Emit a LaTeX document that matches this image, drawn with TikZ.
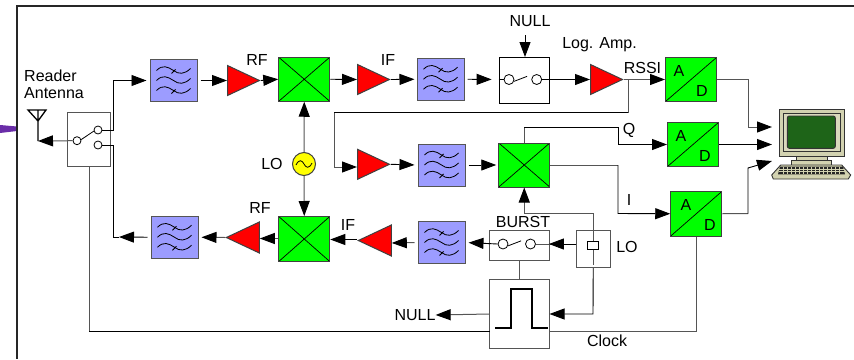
\documentclass[tikz,border=0pt]{standalone}
\usepackage{fontspec}
\setmainfont{Liberation Sans}
\usetikzlibrary{arrows.meta,shapes.geometric,calc}
\definecolor{filt}{HTML}{9C9CFF}
\definecolor{amp}{HTML}{FF0000}
\definecolor{mix}{HTML}{00FF00}
\definecolor{osc}{HTML}{FFFF00}
\definecolor{tan}{HTML}{D2D2B0}
\definecolor{scr}{HTML}{1E6418}
\definecolor{purp}{HTML}{6A2DA8}
\definecolor{gw}{HTML}{555555}
\tikzset{
  x=1pt,y=-1pt,
  wire/.style={line width=0.9pt,draw=black,line join=miter},
  gwire/.style={line width=1pt,draw=gw},
  conn/.style={wire,-{Triangle[length=15pt,width=11pt,color=black]}},
  gconn/.style={gwire,-{Triangle[length=15pt,width=11pt,color=black]}},
  filterbox/.style={draw=gw,fill=filt,line width=1pt,minimum width=47pt,minimum height=42pt,inner sep=0pt},
  mixer/.style={draw=black!75,fill=mix,line width=1pt,inner sep=0pt,minimum width=51pt,minimum height=44pt,
    path picture={\draw[line width=0.7pt,black]
      (path picture bounding box.north west)--(path picture bounding box.south east)
      (path picture bounding box.north east)--(path picture bounding box.south west);}},
  adc/.style={draw=black!75,fill=mix,line width=1pt,inner sep=0pt,minimum width=51pt,minimum height=44pt,
    path picture={\draw[line width=0.7pt,black]
      (path picture bounding box.north east)--(path picture bounding box.south west);}},
  ampR/.style={draw=black!75,fill=amp,line width=1pt,isosceles triangle,isosceles triangle stretches,
    shape border rotate=0,minimum width=30pt,minimum height=32pt,inner sep=0pt,anchor=west},
  ampL/.style={draw=black!75,fill=amp,line width=1pt,isosceles triangle,isosceles triangle stretches,
    shape border rotate=180,minimum width=31pt,minimum height=33pt,inner sep=0pt,anchor=west},
  swbox/.style={draw=#1,line width=1pt,fill=white,inner sep=0pt},
  swbox/.default=gw,
  contact/.style={circle,draw=black,line width=0.8pt,fill=white,minimum size=#1,inner sep=0pt},
  contact/.default=10pt,
  lbl/.style={inner sep=0pt,font=\fontsize{16}{17}\selectfont,align=left},
  waves/.pic={
    \foreach \dy in {-10,0,10}{
      \draw[line width=0.8pt,black] (-17,\dy) .. controls (-11,\dy-6) and (-6,\dy-4) .. (0,\dy)
        .. controls (5,\dy+4) and (11,\dy+4) .. (17,\dy-2);
    }
    \draw[line width=0.8pt,black] (-2,-7) -- (2,-11) (-2,13) -- (2,9);
  },
}
\begin{document}
\begin{tikzpicture}
\useasboundingbox (0,0) rectangle (854,359);
% frame
\path[fill=purp] (0,125) -- (17,126.5) -- (17,131) -- (0,133) -- cycle;
\draw[line width=1.5pt,black!85] (854,6) -- (17,6) -- (17,359);

% blocks
\node[swbox,minimum width=42.5pt,minimum height=53.5pt,at={(88.75,139.25)}] (sw) {};
\node[contact=8pt,at={(77,140.7)}] (swc) {};
\node[contact=8pt,at={(98,130)}] (swa) {};
\node[contact=8pt,at={(98,145)}] (swb) {};

\node[filterbox,at={(173.5,80.5)}] (f1) {};
\node[ampR,at={(227,80.5)}] (a1) {};
\node[mixer,at={(304.25,79.25)}] (m1) {};
\node[ampR,at={(357,79.5)}] (a2) {};
\node[filterbox,at={(440.5,79.25)}] (f2) {};
\node[swbox=black,minimum width=50.5pt,minimum height=45.5pt,at={(524.25,80.25)}] (ns) {};
\node[contact,at={(509,79.5)}] (n1) {};
\node[contact,at={(536.7,79.5)}] (n2) {};
\node[ampR,at={(590,79.5)}] (a3) {};
\node[adc,at={(691,79.5)}] (ad1) {};

\node[ampR,at={(357,164.3)}] (a4) {};
\node[filterbox,at={(441.5,165)}] (f3) {};
\node[mixer,at={(524.25,165)}] (m3) {};
\node[adc,at={(693,144.5)}] (ad2) {};
\node[adc,minimum height=44.5pt,at={(696.25,213.75)}] (ad3) {};

\node[circle,draw=black!75,fill=osc,line width=1pt,minimum size=23pt,inner sep=0pt,at={(304,164)}] (lo) {};
\draw[line width=0.8pt,black] (296,165) .. controls (299,159) and (302,160) .. (304,164) .. controls (306,168) and (309,169) .. (312,163);

\node[filterbox,at={(174.5,237.25)}] (f4) {};
\node[ampL,at={(225,237.5)}] (a5) {};
\node[mixer,minimum height=45pt,at={(304.25,239)}] (m2) {};
\node[ampL,at={(357,240.5)}] (a6) {};
\node[filterbox,at={(441.5,242.5)}] (f5) {};
\node[swbox,minimum width=60pt,minimum height=30pt,at={(519.5,245)}] (bs) {};
\node[contact,at={(503,244)}] (b1) {};
\node[contact,at={(530.5,244)}] (b2) {};
\node[swbox,minimum width=33.5pt,minimum height=37.5pt,at={(593.25,248.75)}] (lob) {};
\node[draw=black,line width=1pt,fill=white,minimum width=11pt,minimum height=8pt,inner sep=0pt,at={(593,245)}] (xt) {};
\node[swbox,minimum width=60pt,minimum height=69.5pt,at={(519.5,313.75)}] (pu) {};
\draw[line width=1.6pt,black] (495,328) -- (511,328) -- (511,289) -- (532,289) -- (532,328) -- (548,328);

% switch blades
\draw[line width=0.8pt,black] (swc.15) -- (swa.195);
\draw[line width=0.8pt,black] (n1.-20) -- ++(13,-5);
\draw[line width=0.8pt,black] (b1.-20) -- ++(13,-5);

% pictures of filters
\pic at (f1) {waves};
\pic at (f2) {waves};
\pic at (f3) {waves};
\pic at (f4) {waves};
\pic at (f5) {waves};

% antenna
\coordinate (ant) at (38,141);
\draw[line width=1.3pt,black] (28,110) -- (46,110) -- (38,121) -- cycle (38,110) -- (ant);

% computer
\coordinate (pc1) at (772,127);
\coordinate (pc2) at (772,144.5);
\coordinate (pc3) at (772,161);
\begin{scope}[line width=0.9pt,draw=black!80]
\draw[fill=tan] (796,156.7) rectangle (827.7,160);
\draw[fill=tan] (791.7,160) rectangle (831.7,165);
\draw[fill=tan] (780.7,165) -- (841.7,165) -- (850.7,175) -- (848.3,179) -- (773.3,179) -- (771.7,175) -- cycle;
\fill[black!85] (780,166.7) -- (843,166.7) -- (845,174.3) -- (778,174.3) -- cycle;
\draw[tan,line width=0.4pt] (779,169) -- (844,169) (778.5,171.5) -- (844.5,171.5);
\foreach \kx in {783,787,...,841}{\draw[tan,line width=0.3pt] (\kx,166.7) -- (\kx,174.3);}
\draw[fill=tan] (779,109) rectangle (844.7,156.7);
\draw[fill=tan!85!white,line width=0.7pt] (783.3,113.3) rectangle (840.7,151);
\draw[fill=scr,rounded corners=2pt] (787.3,116) rectangle (835.3,148.3);
\end{scope}

% forward path
\coordinate (sj) at (113,130);
\draw[conn,shorten >=3pt] (swa.east) -- (sj) |- (f1.west);
\draw[conn,shorten <=3pt] (f1.east) -- (a1.west);
\draw[conn] (a1.east) -- (m1.west);
\draw[conn] (m1.east) -- (a2.west);
\draw[conn,shorten >=2pt] (a2.east) -- (f2.west);
\draw[conn,shorten <=3pt,shorten >=12pt] (f2.east) -- (n1.west);
\draw[wire] (ns.west|-n1) -- (n1.west);
\draw[conn] (n2.east) -- (a3.west);
\draw[gconn] (a3.east) -- (ad1.west);
\coordinate (rj) at (628,79.5);
\coordinate (rk) at (334,112.5);
\draw[gwire] (rj) -- (628,112.5);
\draw[wire] (628,112.5) -- (rk);
\draw[gconn] (rk) -- (334,167) -- (a4.west|-0,167);
\draw[conn,shorten >=3pt] (a4.east) -- (f3.west);
\draw[conn,shorten <=3pt,shorten >=2pt] (f3.east) -- (m3.west);
\coordinate (q1) at (618,127);
\coordinate (q2) at (618,144.5);
\draw[gwire] (m3.north) -- (524.25,127);
\draw[conn] (524.25,127) -- (q1) -- (q2) -- (ad2.west);
\coordinate (i1) at (618,165);
\coordinate (i2) at (618,213.5);
\draw[gwire] (m3.east) -- (i1);
\draw[conn] (i1) -- (i2) -- (ad3.west);
\coordinate (o1) at (748,79.5);
\draw[gconn] (ad1.east) -- (o1) |- (pc1);
\draw[conn] (ad2.east) -- (pc2);
\coordinate (o3) at (748,213.5);
\coordinate (o4) at (748,168);
\draw[gwire] (ad3.east) -- (o3);
\draw[conn] (o3) -- (o4) -- (pc3);
% LO
\draw[gconn] (lo.north) -- (m1.south);
\draw[gconn] (lo.south) -- (m2.north);
% return path
\coordinate (sk) at (113,145);
\coordinate (t4) at (119,237);
\draw[wire] (swb.east) -- (sk) |- (t4);
\draw[conn,shorten <=3pt] (f4.west) -- (t4);
\draw[gconn,shorten >=3pt] (a5.west) -- (f4.east);
\draw[gconn] (m2.west|-0,238.5) -- (a5.east|-0,238.5);
\draw[conn] (a6.west|-0,239.5) -- (m2.east|-0,239.5);
\draw[gconn,shorten <=3pt] (f5.west) -- (a6.east|-0,243);
\draw[conn,shorten >=3pt] (b1.west) -- (f5.east);
\draw[gwire] (lob.west|-b2) -- (b2.east);
\draw[conn,shorten >=13pt] (lob.west|-b2) -- (b2.east);
% crystal and LO routes
\coordinate (l1) at (593,213.5);
\draw[gwire] (xt.south) -- (593,265);
\draw[gconn] (xt.north) -- (l1) -| (m3.south);
\coordinate (pin) at (549.5,314);
\coordinate (pout) at (489.5,314);
\draw[conn] (lob.south) -- (593,314) -- (pin);
\draw[gwire] (bs.south) -- (pu.north);
% controls
\node[lbl,at={(530,21)}] (tnull) {NULL};
\draw[conn] (525,35) -- (ns.north-|525,0);
\node[lbl,at={(415,315)}] (tn2) {NULL};
\draw[gconn] (pout) -- (tn2.east);
% clock and switch control
\coordinate (ca) at (549.5,331);
\coordinate (cb) at (489.5,331);
\draw[gwire] (ad3.south) |- (ca);
\draw[wire] (cb) -- (89,331);
\draw[gwire] (89,331) -- (sw.south-|89,0);
% arrow to antenna
\draw[gconn] (swc.west) -- (ant);

% labels
\node[lbl,anchor=north west,at={(24,70)}] (t0) {Reader\\Antenna};
\node[lbl,at={(257,60)}] (t1) {RF};
\node[lbl,at={(388,60)}] (t2) {IF};
\node[lbl,at={(599.5,45)}] (t3) {Log. Amp.};
\node[lbl,at={(642.5,68)}] (t4l) {RSSI};
\node[lbl,at={(272,164)}] (t5) {LO};
\node[lbl,at={(260,208)}] (t6) {RF};
\node[lbl,at={(348,225)}] (t7) {IF};
\node[lbl,at={(523,222)}] (t8) {BURST};
\node[lbl,at={(627,247)}] (t9) {LO};
\node[lbl,at={(629,130)}] (t10) {Q};
\node[lbl,at={(629,200)}] (t11) {I};
\node[lbl,at={(607,341)}] (t12) {Clock};
\node[lbl,at={(679,71)}] (a1t) {A};
\node[lbl,at={(702,91)}] (d1t) {D};
\node[lbl,at={(681,136)}] (a2t) {A};
\node[lbl,at={(705,156)}] (d2t) {D};
\node[lbl,at={(686,205)}] (a3t) {A};
\node[lbl,at={(710,225)}] (d3t) {D};
\end{tikzpicture}
\end{document}
